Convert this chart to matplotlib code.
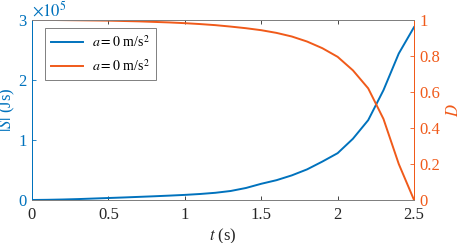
import matplotlib
matplotlib.use('Agg')
import matplotlib.pyplot as plt

plt.rcParams['font.family'] = 'serif'
plt.rcParams['font.serif'] = ['Liberation Serif', 'STIXGeneral', 'DejaVu Serif']
plt.rcParams['mathtext.fontset'] = 'stix'
plt.rcParams['xtick.direction'] = 'in'
plt.rcParams['ytick.direction'] = 'in'

# time samples (s)
t = [0.0, 0.1, 0.2, 0.3, 0.4, 0.5, 0.6, 0.7, 0.8, 0.9, 1.0, 1.1, 1.2,
     1.3, 1.4, 1.5, 1.6, 1.7, 1.8, 1.9, 2.0, 2.1, 2.2, 2.3, 2.4, 2.5]
# |S| in units of 1e5 Js
S = [0.0, 0.003, 0.008, 0.015, 0.024, 0.033, 0.042, 0.052, 0.062, 0.073,
     0.085, 0.10, 0.12, 0.15, 0.20, 0.27, 0.33, 0.41, 0.51, 0.64, 0.78,
     1.02, 1.33, 1.83, 2.44, 2.88]
# D
D = [1.0, 1.0, 0.999, 0.998, 0.997, 0.996, 0.994, 0.992, 0.989, 0.986,
     0.982, 0.977, 0.971, 0.963, 0.954, 0.943, 0.928, 0.908, 0.88, 0.843,
     0.795, 0.72, 0.62, 0.45, 0.2, 0.0]

blue = '#0072BD'
orange = '#F05A1A'
grey = '#808080'

fig = plt.figure(figsize=(4.57, 2.43), dpi=100)
ax = fig.add_axes([0.070, 0.177, 0.836, 0.741])
ax2 = ax.twinx()

l1, = ax.plot(t, S, color=blue, lw=1.4, label='$a = 0$ m/s$^2$')
l2, = ax2.plot(t, D, color=orange, lw=1.4, label='$a = 0$ m/s$^2$')

ax.set_xlim(0, 2.5)
ax.set_ylim(0, 3)
ax2.set_ylim(0, 1)
ax.set_xticks([0, 0.5, 1, 1.5, 2, 2.5])
ax.set_xticklabels(['0', '0.5', '1', '1.5', '2', '2.5'])
ax.set_yticks([0, 1, 2, 3])
ax2.set_yticks([0, 0.2, 0.4, 0.6, 0.8, 1])
ax2.set_yticklabels(['0', '0.2', '0.4', '0.6', '0.8', '1'])

ax.tick_params(axis='x', colors='#262626', labelsize=12, top=True, length=3, width=0.6, pad=5)
ax.tick_params(axis='y', colors=blue, labelsize=12, length=3, width=0.6, pad=4)
ax2.tick_params(axis='y', colors=orange, labelsize=12, length=3, width=0.6, pad=4)

for a in (ax, ax2):
    a.spines['top'].set_color(grey)
    a.spines['bottom'].set_color(grey)
    for s in a.spines.values():
        s.set_linewidth(0.7)
ax2.spines['left'].set_color(blue)
ax2.spines['right'].set_color(orange)
ax.spines['left'].set_color(blue)
ax.spines['right'].set_color(orange)

ax.set_xlabel('$t$ (s)', fontsize=12, color='#262626')
ax.xaxis.set_label_coords(0.5, -0.15)
ax.set_ylabel('$|S|$ (Js)', fontsize=12, color=blue)
ax.yaxis.set_label_coords(-0.04, 0.5)
ax2.set_ylabel('$D$', fontsize=12, color=orange)
ax2.yaxis.set_label_coords(1.083, 0.5)

ax.text(0.0, 3.0, r'$\times 10^5$', color=blue, fontsize=12, ha='left', va='bottom')

leg = ax.legend(handles=[l1, l2], loc='upper left', bbox_to_anchor=(0.034, 0.955),
                fontsize=10, fancybox=False, edgecolor=grey, framealpha=1,
                handlelength=2.3, borderpad=0.45, labelspacing=0.55, handletextpad=0.6,
                borderaxespad=0)
leg.get_frame().set_linewidth(0.7)

fig.savefig('out.png', dpi=100)
